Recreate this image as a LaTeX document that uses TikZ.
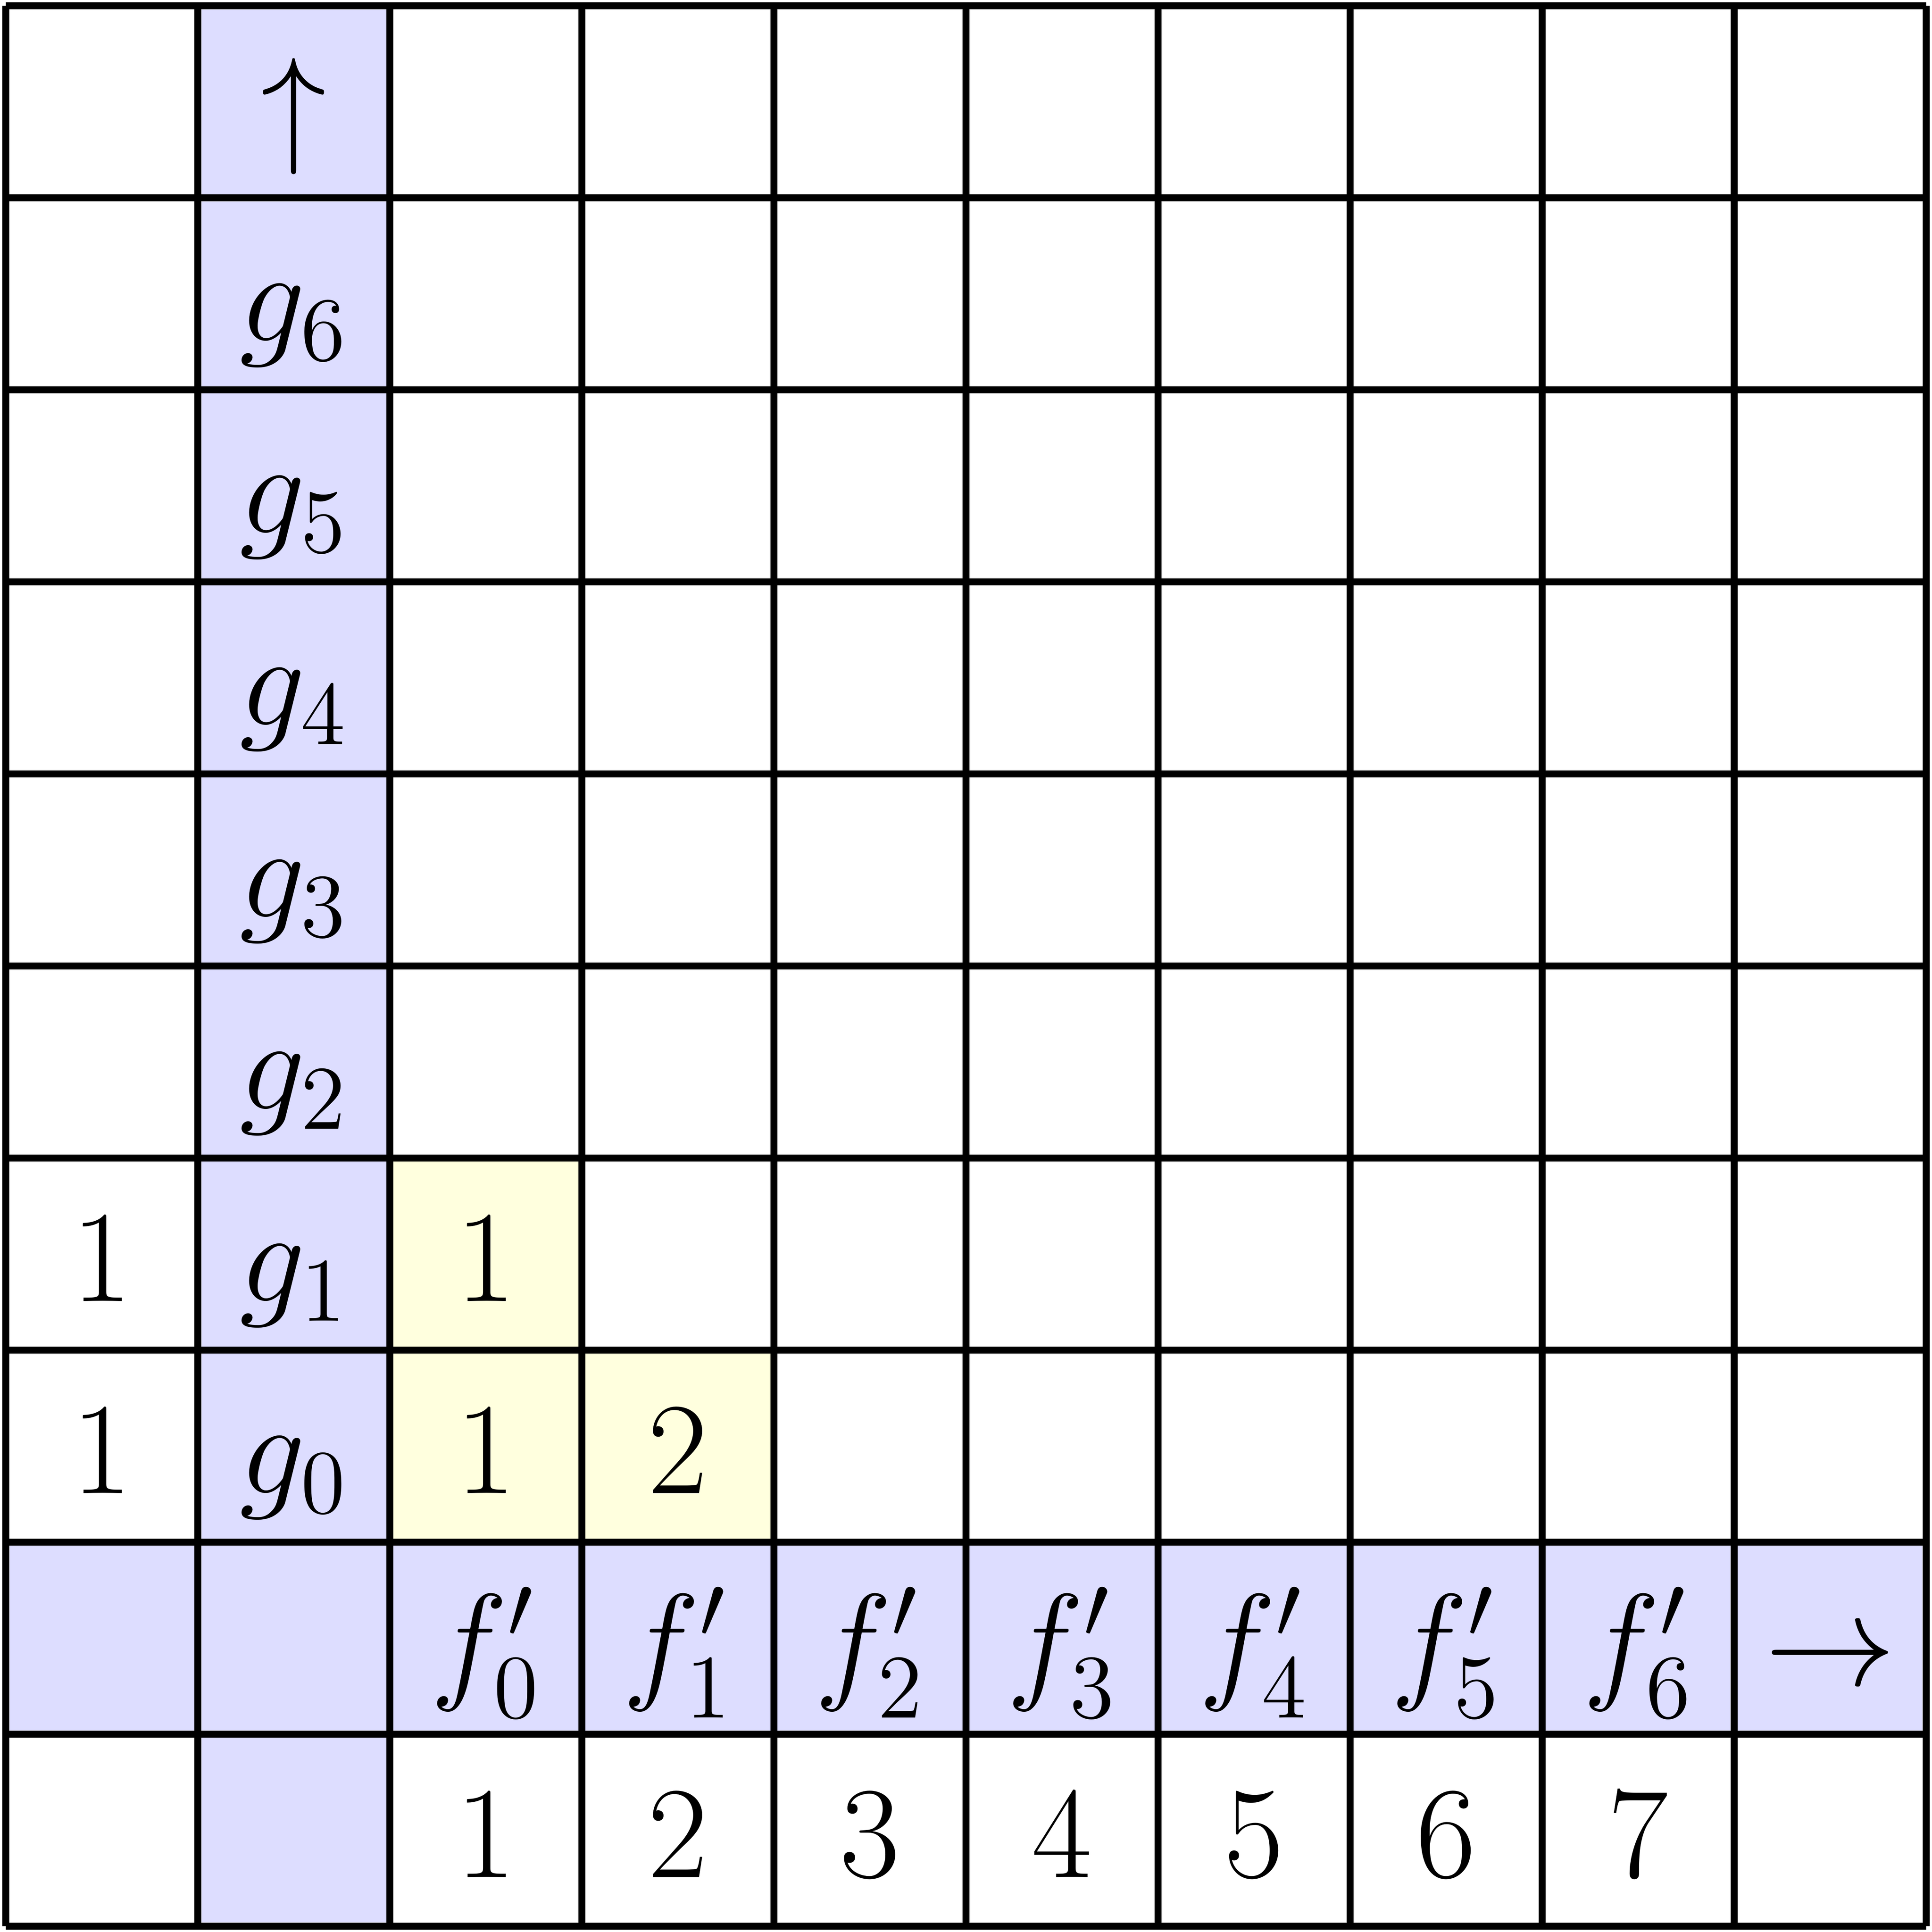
\documentclass[tikz,border=0pt]{standalone}
\usepackage{amsmath,amsfonts}
\usepackage{tikz}
\usepackage{color}
\definecolor{lav}{RGB}{221,221,255}
\definecolor{lemon}{RGB}{255,255,222}
\begin{document}
\begin{tikzpicture}[scale=1.07]
\tikzstyle{every node}+=[inner sep=0pt,anchor=base,font=\huge]
\useasboundingbox (-0.03,-0.03) rectangle (10.03,10.03);
\fill [lav] (1,0) rectangle (2,10);
\fill [lav] (0,1) rectangle (10,2);
\fill [lemon] (2,2) rectangle (3,4);
\fill [lemon] (3,2) rectangle (4,3);
\draw [black,line width=1.07pt] (0,0) grid (10,10);
\draw (1.5,9.255) node (uarr) {$\uparrow$};
\draw (1.5,8.255) node (g6) {$g_6$};
\draw (1.5,7.255) node (g5) {$g_5$};
\draw (1.5,6.255) node (g4) {$g_4$};
\draw (1.5,5.255) node (g3) {$g_3$};
\draw (1.5,4.255) node (g2) {$g_2$};
\draw (1.5,3.255) node (g1) {$g_1$};
\draw (1.5,2.255) node (g0) {$g_0$};
\draw (0.5,3.255) node (a1) {$1$};
\draw (0.5,2.255) node (a0) {$1$};
\draw (2.5,3.255) node (c1) {$1$};
\draw (2.5,2.255) node (c0) {$1$};
\draw (3.5,2.255) node (d0) {$2$};
\draw (2.5,1.255) node (f0) {$f'_0$};
\draw (3.5,1.255) node (f1) {$f'_1$};
\draw (4.5,1.255) node (f2) {$f'_2$};
\draw (5.5,1.255) node (f3) {$f'_3$};
\draw (6.5,1.255) node (f4) {$f'_4$};
\draw (7.5,1.255) node (f5) {$f'_5$};
\draw (8.5,1.255) node (f6) {$f'_6$};
\draw (9.5,1.255) node (rarr) {$\rightarrow$};
\draw (2.5,0.255) node (n1) {$1$};
\draw (3.5,0.255) node (n2) {$2$};
\draw (4.5,0.255) node (n3) {$3$};
\draw (5.5,0.255) node (n4) {$4$};
\draw (6.5,0.255) node (n5) {$5$};
\draw (7.5,0.255) node (n6) {$6$};
\draw (8.5,0.255) node (n7) {$7$};
\end{tikzpicture}
\end{document}
